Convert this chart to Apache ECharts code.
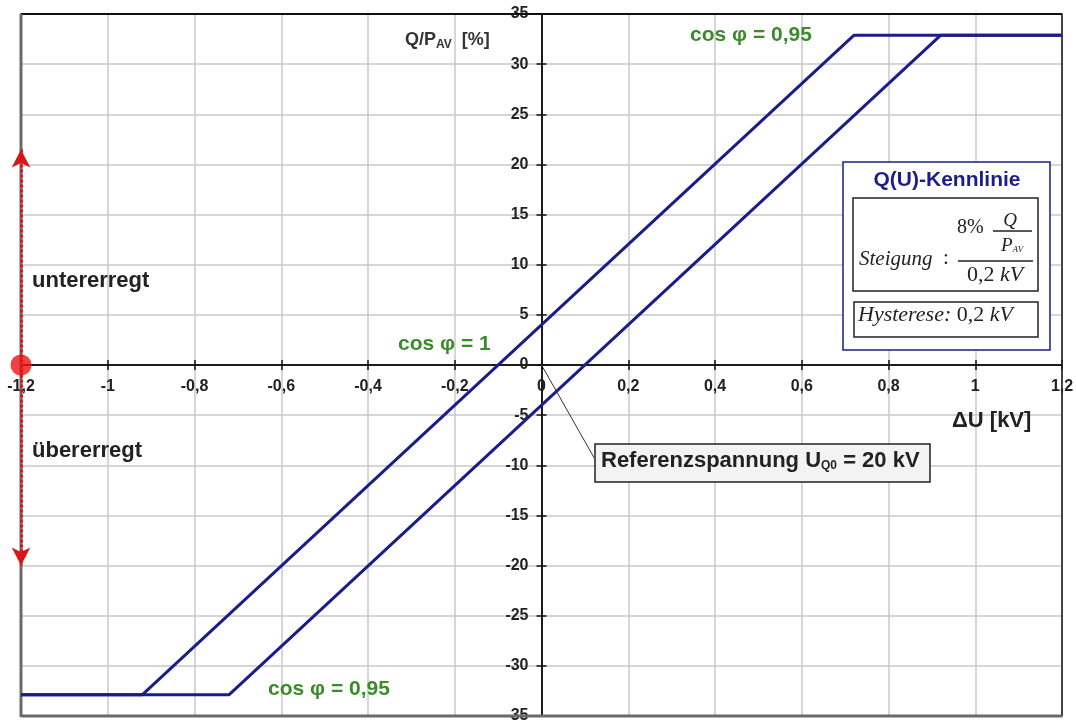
<!DOCTYPE html>
<html><head><meta charset="utf-8">
<script src="https://cdn.jsdelivr.net/npm/echarts@6/dist/echarts.min.js"></script>
<style>html,body{margin:0;padding:0;background:#fff}#c{width:1076px;height:726px}</style>
</head><body><div id="c"></div>
<script>
// ---- data ----
const line1U = [-1.2, -0.92, 0.72, 1.2];
const line1Q = [-32.87, -32.87, 32.87, 32.87];
const line2U = [-1.2, -0.72, 0.92, 1.2];
const line2Q = [-32.87, -32.87, 32.87, 32.87];
const arrowU = [-1.2, -1.2];
const arrowQ = [21.5, -20];
const refDotU = [-1.2];
const refDotQ = [0];
const leaderU = [0, 0.122];
const leaderQ = [0, -9.3];
const xRange = [-1.2, 1.2, 0.2];
const yRange = [-35, 35, 5];

const FONT = '"Liberation Sans", Arial, sans-serif';
const SERIF = '"Liberation Serif", "Times New Roman", serif';
const NAVY = '#1a1d8a';
const GREEN = '#3a8c2a';
const zip = (a, b) => a.map((v, i) => [v, b[i]]);

const W = 1076, H = 726;
const G = {left: 21, top: 14, right: 14, bottom: 10};
const gx0 = G.left, gy0 = G.top, gx1 = W - G.right, gy1 = H - G.bottom;
const gw = gx1 - gx0, gh = gy1 - gy0;
// pixel position of the zero crossing (layout only, from axis ranges)
const zeroX = gx0 + gw * (0 - xRange[0]) / (xRange[1] - xRange[0]);
const zeroY = gy1 - gh * (0 - yRange[0]) / (yRange[1] - yRange[0]);

const fmtX = v => {
  const r = Math.round(v * 10) / 10;
  return String(r).replace('.', ',');
};
const labelStyle = {fontFamily: FONT, fontWeight: 'bold', fontSize: 16, color: '#222'};

function xAx(pos, offset, withLabels) {
  return {
    type: 'value', min: xRange[0], max: xRange[1], interval: xRange[2], position: pos, offset: offset,
    axisLine: {onZero: false, lineStyle: {color: '#111', width: 1.5}},
    axisTick: {show: true, length: 5, lineStyle: {color: '#111', width: 1.5}},
    axisLabel: withLabels ? Object.assign({show: true, margin: 14, formatter: fmtX}, labelStyle) : {show: false},
    splitLine: {show: withLabels, lineStyle: {color: '#c9c9c9', width: 1.5}}
  };
}
function yAx(pos, offset, withLabels) {
  return {
    type: 'value', min: yRange[0], max: yRange[1], interval: yRange[2], position: pos, offset: offset,
    axisLine: {onZero: false, lineStyle: {color: '#111', width: 1.5}},
    axisTick: {show: true, length: 5, lineStyle: {color: '#111', width: 1.5}},
    axisLabel: withLabels ? Object.assign({show: true, margin: 13}, labelStyle) : {show: false},
    splitLine: {show: withLabels, lineStyle: {color: '#c9c9c9', width: 1.5}}
  };
}

const chart = echarts.init(document.getElementById('c'), null, {renderer: 'canvas'});
chart.setOption({
  animation: false,
  backgroundColor: '#fff',
  grid: Object.assign({show: true, borderColor: '#1a1a1a', borderWidth: 1.5, backgroundColor: '#fff',
    containLabel: false, outerBoundsMode: 'none'}, G),
  xAxis: [xAx('bottom', -(gy1 - zeroY), true), xAx('top', -(zeroY - gy0), false)],
  yAxis: [yAx('left', -(zeroX - gx0), true), yAx('right', -(gx1 - zeroX), false)],
  series: [
    {type: 'line', data: zip(line1U, line1Q), symbol: 'none', lineStyle: {color: NAVY, width: 3}, z: 5},
    {type: 'line', data: zip(line2U, line2Q), symbol: 'none', lineStyle: {color: NAVY, width: 3}, z: 5},
    {type: 'line', data: zip(leaderU, leaderQ), symbol: 'none', lineStyle: {color: '#333', width: 1}, z: 4},
    {type: 'line', data: [], clip: false, z: 6,
      markLine: {silent: true, symbol: ['arrow', 'arrow'], symbolSize: [14, 18], animation: false,
        label: {show: false},
        lineStyle: {color: '#d81818', width: 3, type: [3, 2]},
        data: [[{coord: [arrowU[0], arrowQ[0]]}, {coord: [arrowU[1], arrowQ[1]]}]]}},
    {type: 'scatter', data: zip(refDotU, refDotQ), symbolSize: 21, clip: false, z: 7,
      itemStyle: {color: '#f01010'}}
  ],
  graphic: [
    // frame: top/right black, left/bottom grey & thick
    {type: 'line', shape: {x1: gx0, y1: gy0, x2: gx1, y2: gy0}, style: {stroke: '#111', lineWidth: 2}, z: 3},
    {type: 'line', shape: {x1: gx1, y1: gy0, x2: gx1, y2: gy1}, style: {stroke: '#222', lineWidth: 1.5}, z: 3},
    {type: 'line', shape: {x1: gx0, y1: gy0, x2: gx0, y2: gy1 + 1}, style: {stroke: '#6a6a6a', lineWidth: 3}, z: 3},
    {type: 'line', shape: {x1: gx0, y1: gy1, x2: gx1, y2: gy1}, style: {stroke: '#6a6a6a', lineWidth: 3}, z: 3},
    {type: 'text', left: 405, top: 31, z: 50, style: {
      text: '{a|Q/P}{s|AV}{a|  [%]}',
      rich: {a: {fontFamily: FONT, fontWeight: 'bold', fontSize: 18, fill: '#333'},
             s: {fontFamily: FONT, fontWeight: 'bold', fontSize: 12, fill: '#333', padding: [9, 0, 0, 0]}}}},
    {type: 'text', left: 952, top: 410, z: 50, style: {text: 'ΔU [kV]', font: 'bold 22px ' + FONT, fill: '#222'}},
    {type: 'text', left: 690, top: 25, z: 50, style: {text: 'cos φ = 0,95', font: 'bold 21px ' + FONT, fill: GREEN}},
    {type: 'text', left: 398, top: 334, z: 50, style: {text: 'cos φ = 1', font: 'bold 21px ' + FONT, fill: GREEN}},
    {type: 'text', left: 268, top: 679, z: 50, style: {text: 'cos φ = 0,95', font: 'bold 21px ' + FONT, fill: GREEN}},
    {type: 'text', left: 32, top: 270, z: 50, style: {text: 'untererregt', font: 'bold 22px ' + FONT, fill: '#222'}},
    {type: 'text', left: 32, top: 440, z: 50, style: {text: 'übererregt', font: 'bold 22px ' + FONT, fill: '#222'}},
    {type: 'rect', shape: {x: 595, y: 444, width: 335, height: 38}, style: {fill: '#f3f3f3', stroke: '#222', lineWidth: 1.5}, z: 40},
    {type: 'text', left: 601, top: 450, z: 50, style: {
      text: '{a|Referenzspannung U}{s|Q0}{a| = 20 kV}',
      rich: {a: {fontFamily: FONT, fontWeight: 'bold', fontSize: 22, fill: '#222'},
             s: {fontFamily: FONT, fontWeight: 'bold', fontSize: 12, fill: '#222', padding: [10, 0, 0, 0]}}}},
    {type: 'rect', shape: {x: 843, y: 162, width: 207, height: 188}, style: {fill: '#fff', stroke: NAVY, lineWidth: 1.5}, z: 40},
    {type: 'text', x: 947, y: 180, z: 50, style: {text: 'Q(U)-Kennlinie', font: 'bold 21px ' + FONT, fill: NAVY, align: 'center', verticalAlign: 'middle'}},
    {type: 'rect', shape: {x: 853, y: 198, width: 185, height: 93}, style: {fill: '#fff', stroke: '#222', lineWidth: 1.5}, z: 41},
    {type: 'rect', shape: {x: 854, y: 302, width: 184, height: 35}, style: {fill: '#fff', stroke: '#222', lineWidth: 1.5}, z: 41},
    {type: 'text', x: 859, y: 259, z: 50, style: {text: 'Steigung', font: 'italic 21px ' + SERIF, fill: '#222', verticalAlign: 'middle'}},
    {type: 'text', x: 946, y: 258, z: 50, style: {text: ':', font: '21px ' + SERIF, fill: '#222', align: 'center', verticalAlign: 'middle'}},
    {type: 'text', x: 957, y: 228, z: 50, style: {text: '8%', font: '20px ' + SERIF, fill: '#222', verticalAlign: 'middle'}},
    {type: 'text', x: 1010, y: 221, z: 50, style: {text: 'Q', font: 'italic 19px ' + SERIF, fill: '#222', align: 'center', verticalAlign: 'middle'}},
    {type: 'line', shape: {x1: 993, y1: 231, x2: 1032, y2: 231}, style: {stroke: '#222', lineWidth: 1.3}, z: 50},
    {type: 'text', x: 1001, y: 246, z: 50, style: {
      text: '{p|P}{s|AV}', verticalAlign: 'middle',
      rich: {p: {fontFamily: SERIF, fontStyle: 'italic', fontSize: 19, fill: '#222'},
             s: {fontFamily: SERIF, fontStyle: 'italic', fontSize: 9, fill: '#222', padding: [8, 0, 0, 0]}}}},
    {type: 'line', shape: {x1: 958, y1: 261, x2: 1033, y2: 261}, style: {stroke: '#222', lineWidth: 1.3}, z: 50},
    {type: 'text', x: 995, y: 275, z: 50, style: {
      text: '{u|0,2 }{i|kV}', align: 'center', verticalAlign: 'middle',
      rich: {u: {fontFamily: SERIF, fontSize: 22, fill: '#222'},
             i: {fontFamily: SERIF, fontStyle: 'italic', fontSize: 22, fill: '#222'}}}},
    {type: 'text', x: 858, y: 315, z: 50, style: {
      text: '{i|Hysterese:}{u| 0,2 }{i|kV}', verticalAlign: 'middle',
      rich: {u: {fontFamily: SERIF, fontSize: 22, fill: '#222'},
             i: {fontFamily: SERIF, fontStyle: 'italic', fontSize: 22, fill: '#222'}}}}
  ]
});
</script></body></html>
